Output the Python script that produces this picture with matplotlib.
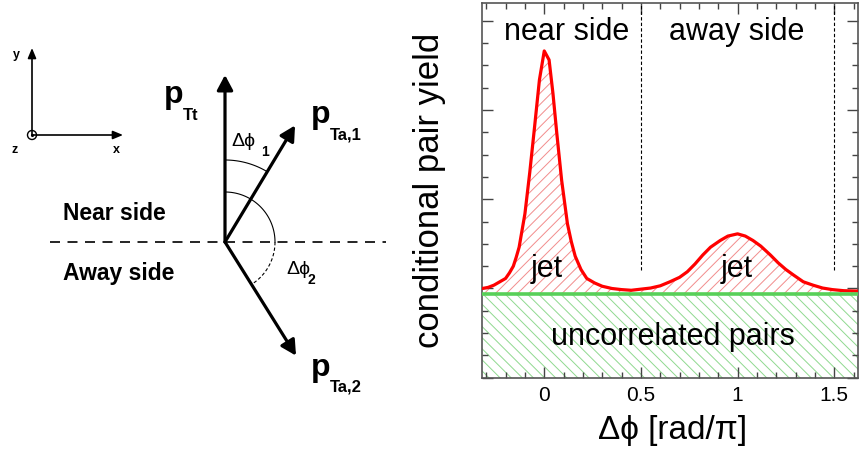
import numpy as np
import matplotlib.pyplot as plt
from matplotlib.ticker import MultipleLocator

plt.rcParams['font.family'] = ['Liberation Sans', 'DejaVu Sans']
plt.rcParams['hatch.linewidth'] = 0.7

# Pair yield vs delta-phi (units of pi), points along the red curve
dphi = [-0.32, -0.29, -0.26, -0.23, -0.20, -0.18, -0.16, -0.145, -0.13, -0.10,
        -0.075, -0.05, -0.025, 0.0, 0.025, 0.045, 0.065, 0.09, 0.12, 0.14,
        0.16, 0.19, 0.22, 0.26, 0.30, 0.35, 0.40, 0.45, 0.50, 0.55,
        0.60, 0.65, 0.70, 0.74, 0.78, 0.82, 0.86, 0.91, 0.95, 1.0,
        1.04, 1.08, 1.12, 1.17, 1.21, 1.25, 1.29, 1.34, 1.39, 1.44,
        1.49, 1.55, 1.63]
pair_yield = [4.0, 4.05, 4.15, 4.3, 4.45, 4.7, 5.0, 5.4, 5.85, 7.35,
              9.2, 11.25, 13.35, 14.65, 14.25, 12.75, 10.95, 8.85, 6.9, 6.1,
              5.45, 4.85, 4.45, 4.25, 4.1, 4.0, 3.95, 3.92, 3.97, 4.02,
              4.12, 4.3, 4.5, 4.75, 5.1, 5.5, 5.85, 6.15, 6.35, 6.45,
              6.35, 6.15, 5.9, 5.5, 5.15, 4.85, 4.6, 4.3, 4.15, 4.02,
              3.95, 3.9, 3.88]
background = 3.75
side_edges = [0.5, 1.5]
x_ticks = [0, 0.5, 1, 1.5]
x_ticklabels = ['0', '0.5', '1', '1.5']

# Vector sketch: angle from the trigger direction (deg, clockwise) and length (px)
origin = np.array([225.0, 242.0])
vec_angle = [0, 31, 148]
vec_len = [167, 136, 134]
vec_sub = ['Tt', 'Ta,1', 'Ta,2']
p_pos = [(164, 103), (311, 123), (311, 376)]
sub_pos = [(183, 120), (330, 140), (330, 391)]

fig = plt.figure(figsize=(8.59, 4.53), dpi=100)

# ---- left: sketch drawn in pixel units
sk = fig.add_axes([0, 0, 1, 1])
sk.set_xlim(0, 859)
sk.set_ylim(453, 0)
sk.axis('off')

for a, L in zip(vec_angle, vec_len):
    t = np.radians(a)
    tip = origin + L * np.array([np.sin(t), -np.cos(t)])
    sk.annotate('', xy=tip, xytext=origin,
                arrowprops=dict(arrowstyle='-|>,head_length=0.45,head_width=0.24',
                                mutation_scale=20, lw=2.3, color='k',
                                shrinkA=0, shrinkB=0))

for (px, py), (sx, sy), s in zip(p_pos, sub_pos, vec_sub):
    sk.text(px, py, 'p', fontsize=23, fontweight='bold', ha='left', va='baseline')
    sk.text(sx, sy, s, fontsize=12, fontweight='bold', ha='left', va='baseline')

# near/away boundary
sk.plot([50, 386], [origin[1], origin[1]], color='k', lw=1.2, dashes=(6, 4.5))

# angle arcs
th = np.radians(np.linspace(0, vec_angle[1], 40))
sk.plot(origin[0] + 82 * np.sin(th), origin[1] - 82 * np.cos(th), color='k', lw=0.8)
th = np.radians(np.linspace(0, 90, 60))
sk.plot(origin[0] + 50 * np.sin(th), origin[1] - 50 * np.cos(th), color='k', lw=0.8)
th = np.radians(np.linspace(90, vec_angle[2], 40))
sk.plot(origin[0] + 50 * np.sin(th), origin[1] - 50 * np.cos(th), color='k', lw=0.8,
        dashes=(3, 2))

sk.text(231, 146, '\u0394\u03d5', fontsize=14, ha='left', va='baseline')
sk.text(261, 156, '1', fontsize=10, fontweight='bold', ha='left', va='baseline')
sk.text(286, 274, '\u0394\u03d5', fontsize=14, ha='left', va='baseline')
sk.text(308, 284, '2', fontsize=10, fontweight='bold', ha='left', va='baseline')

sk.text(63, 220, 'Near side', fontsize=16.5, fontweight='bold', ha='left', va='baseline')
sk.text(63, 280, 'Away side', fontsize=16.5, fontweight='bold', ha='left', va='baseline')

# coordinate frame
c0 = np.array([32.0, 135.0])
small = dict(arrowstyle='-|>,head_length=0.6,head_width=0.25', mutation_scale=10,
             lw=1.2, color='k', shrinkA=0, shrinkB=0)
sk.annotate('', xy=(c0[0], 48), xytext=c0, arrowprops=small)
sk.annotate('', xy=(123, c0[1]), xytext=c0, arrowprops=small)
sk.add_patch(plt.Circle(c0, 4.5, fill=False, lw=1.0, color='k'))
sk.plot(*c0, 'k.', ms=2.5)
sk.text(13, 58, 'y', fontsize=9, fontweight='bold', ha='left', va='baseline')
sk.text(12, 153, 'z', fontsize=9, fontweight='bold', ha='left', va='baseline')
sk.text(113, 153, 'x', fontsize=9, fontweight='bold', ha='left', va='baseline')

# ---- right: conditional pair yield
ax = fig.add_axes([482 / 859, 75.3 / 453, 376 / 859, 374.7 / 453])
ax.set_xlim(-0.322, 1.623)
ax.set_ylim(0, 16.8)

ax.axhspan(0, background, facecolor='none', edgecolor='#8fd98f', hatch='\\\\\\', lw=0)
ax.fill_between(dphi, background, pair_yield, facecolor='none', edgecolor='#f28c8c',
                hatch='///', lw=0)
ax.plot(dphi, pair_yield, color='#ff0000', lw=2.3, zorder=3)
ax.axhline(background, color='#58d058', lw=2.6, zorder=4)
ax.vlines(side_edges, 4.83, 16.8, colors='k', lw=0.8, linestyles=(0, (3, 2)))

ax.text(0.115, 15.14, 'near side', fontsize=22, ha='center', va='baseline')
ax.text(0.997, 15.14, 'away side', fontsize=22, ha='center', va='baseline')
ax.text(0.012, 4.53, 'jet', fontsize=22, ha='center', va='baseline')
ax.text(0.995, 4.53, 'jet', fontsize=22, ha='center', va='baseline')
ax.text(0.668, 1.47, 'uncorrelated pairs', fontsize=22, ha='center', va='baseline')

ax.set_xticks(x_ticks)
ax.set_xticklabels(x_ticklabels)
ax.xaxis.set_minor_locator(MultipleLocator(0.1))
ax.yaxis.set_major_locator(MultipleLocator(4))
ax.yaxis.set_minor_locator(MultipleLocator(1))
ax.tick_params(which='both', direction='in', top=True, right=True, color='#444',
               labelleft=False, labelsize=15, width=1)
ax.tick_params(which='major', length=8, pad=6)
ax.tick_params(which='minor', length=4.5)
for sp in ax.spines.values():
    sp.set_color('#555')
    sp.set_linewidth(1.2)

fig.text(673 / 859, 1 - 431 / 453, '\u0394\u03d5 [rad/\u03c0]', fontsize=24,
         ha='center', va='center')
fig.text(430 / 859, 1 - 190 / 453, 'conditional pair yield', fontsize=25,
         rotation=90, ha='center', va='center')

fig.savefig('out.png', dpi=100)
